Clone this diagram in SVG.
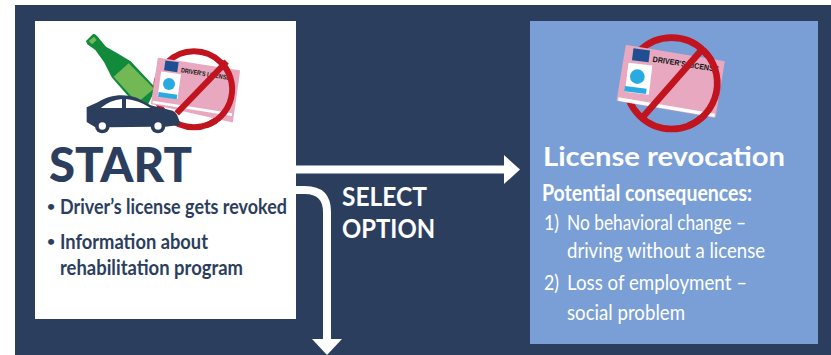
<svg xmlns="http://www.w3.org/2000/svg" width="831" height="355" viewBox="0 0 831 355">
<style>
text{font-family:Lato,"Open Sans","Liberation Sans",sans-serif;fill:#fff}
.d{fill:#2c3e5d}
.b{font-weight:700}
.body{font-size:21.500px;fill:#2c3e5d;font-weight:700}
.bul{font-size:14px;fill:#2c3e5d;font-weight:700}
.w{font-size:22px;font-weight:400}
.card{fill:#e8a9c0;stroke:#e8a9c0;stroke-width:6;stroke-linejoin:round}
.ban{fill:none;stroke:#c1141f}
.stripe{fill:none;stroke:#fff}
.conn{fill:none;stroke:#fff;stroke-width:8}
.head{fill:#fff}
.lic{font-family:"Liberation Sans",sans-serif;font-weight:700;fill:#111}
</style>
<rect width="831" height="355" fill="#fff"/>
<rect x="15" y="5" width="816" height="350" fill="#2c3e5d"/>
<g id="start">
<rect x="35" y="21" width="261" height="298" fill="#fff"/>
<g transform="translate(30 20) scale(.33333)">
<path d="M168 63 L190 41 Q196 41 203 50 L228 80 L262 100 L302 124 L378 205 L350 262 L300 235 L245 172 L222 126 L196 90 L172 73Z" fill="#118a3c"/>
<path d="M176 63 L192 50 L200 60 L186 73Z" fill="#72b956"/>
<path d="M251 170 L296 130 L372 206 L322 248Z" fill="#72b956"/>
<circle cx="492" cy="208" r="114" class="ban" stroke-width="18"/>
<path d="M386 116 L627 154 L606 304 L366 250Z" class="card"/>
<rect x="404" y="124" width="40" height="30" fill="#1f4e93" transform="rotate(8 424 139)"/>
<rect x="388" y="158" width="60" height="75" fill="#fff" transform="rotate(8 418 195)"/>
<circle cx="417" cy="192" r="18" fill="#29abe2"/>
<path d="M386 216 L442 224 L440 238 L384 230Z" fill="#29abe2"/>
<text class="lic" x="452" y="157" font-size="20" transform="rotate(9 452 157)" textLength="148" lengthAdjust="spacingAndGlyphs">DRIVER'S LICENSE</text>
<path d="M368 246 L606 284" class="stripe" stroke-width="8"/>
<path d="M572 126 A114 114 0 0 1 528 316" class="ban" stroke-width="18"/>
<path d="M590 125 L440 280" class="ban" stroke-width="18"/>
<path d="M170 262 L205 246 C235 226 280 218 322 234 L362 256 L428 272 Q445 278 450 315 L405 320 L363 320 L240 322 L196 322 L170 306Z" class="d"/>
<circle cx="217" cy="318" r="22" class="d"/><circle cx="384" cy="318" r="22" class="d"/>
<circle cx="217" cy="318" r="11" fill="#fff"/><circle cx="384" cy="318" r="11" fill="#fff"/>
<path d="M212 264 Q240 240 276 237 L276 264Z M288 237 Q325 240 362 264 L288 264Z" fill="#fff"/>
</g>
<text x="49" y="182" font-size="47" style="fill:#2c3e5d;font-weight:900" textLength="143" lengthAdjust="spacingAndGlyphs">START</text>
<text class="bul" x="47" y="211">•</text>
<text class="body" x="60" y="214" textLength="227" lengthAdjust="spacingAndGlyphs">Driver’s license gets revoked</text>
<text class="bul" x="47" y="246">•</text>
<text class="body" x="60" y="249" textLength="148" lengthAdjust="spacingAndGlyphs">Information about</text>
<text class="body" x="60" y="275" textLength="183" lengthAdjust="spacingAndGlyphs">rehabilitation program</text>
</g>
<g id="revocation">
<rect x="530" y="21" width="288" height="323" fill="#7a9fd6"/>
<g transform="translate(590 20) scale(.33333)">
<circle cx="245" cy="190" r="137" class="ban" stroke-width="20"/>
<path d="M110 78 L401 126 L374 290 L83 240Z" class="card" stroke-width="8"/>
<rect x="128" y="88" width="50" height="36" fill="#1f4e93" transform="rotate(7 153 106)"/>
<rect x="110" y="132" width="72" height="88" fill="#fff" transform="rotate(7 146 176)"/>
<circle cx="142" cy="170" r="22" fill="#29abe2"/>
<path d="M105 198 L170 206 L168 222 L103 214Z" fill="#29abe2"/>
<text class="lic" x="187" y="125" font-size="24" transform="rotate(9 187 125)" textLength="200" lengthAdjust="spacingAndGlyphs">DRIVER'S LICENSE</text>
<path d="M85 237 L374 286" class="stripe" stroke-width="10"/>
<path d="M340 91 A137 137 0 0 1 295 317" class="ban" stroke-width="20"/>
<path d="M335 90 L155 295" class="ban" stroke-width="20"/>
</g>
<text class="b" x="543" y="166" font-size="27" textLength="242" lengthAdjust="spacingAndGlyphs">License revocation</text>
<text class="b" x="542" y="201" font-size="22" textLength="210" lengthAdjust="spacingAndGlyphs">Potential consequences:</text>
<text class="w" x="544" y="230" textLength="15" lengthAdjust="spacingAndGlyphs">1)</text>
<text class="w" x="567" y="230" textLength="179" lengthAdjust="spacingAndGlyphs">No behavioral change –</text>
<text class="w" x="567" y="258" textLength="198" lengthAdjust="spacingAndGlyphs">driving without a license</text>
<text class="w" x="544" y="290" textLength="15" lengthAdjust="spacingAndGlyphs">2)</text>
<text class="w" x="567" y="290" textLength="180" lengthAdjust="spacingAndGlyphs">Loss of employment –</text>
<text class="w" x="567" y="320" textLength="118" lengthAdjust="spacingAndGlyphs">social problem</text>
</g>
<g id="connectors">
<path d="M296 169.500 H506" class="conn"/>
<path d="M504 155 L520 169.500 L504 184Z" class="head"/>
<path d="M296 190 H305 Q327 190 327 212 V341" class="conn"/>
<path d="M312 339 H342 L327 355Z" class="head"/>
</g>
<g id="select-label">
<text class="b" x="342" y="206" font-size="26" textLength="85" lengthAdjust="spacingAndGlyphs">SELECT</text>
<text class="b" x="342" y="238" font-size="26" textLength="93" lengthAdjust="spacingAndGlyphs">OPTION</text>
</g>
</svg>
